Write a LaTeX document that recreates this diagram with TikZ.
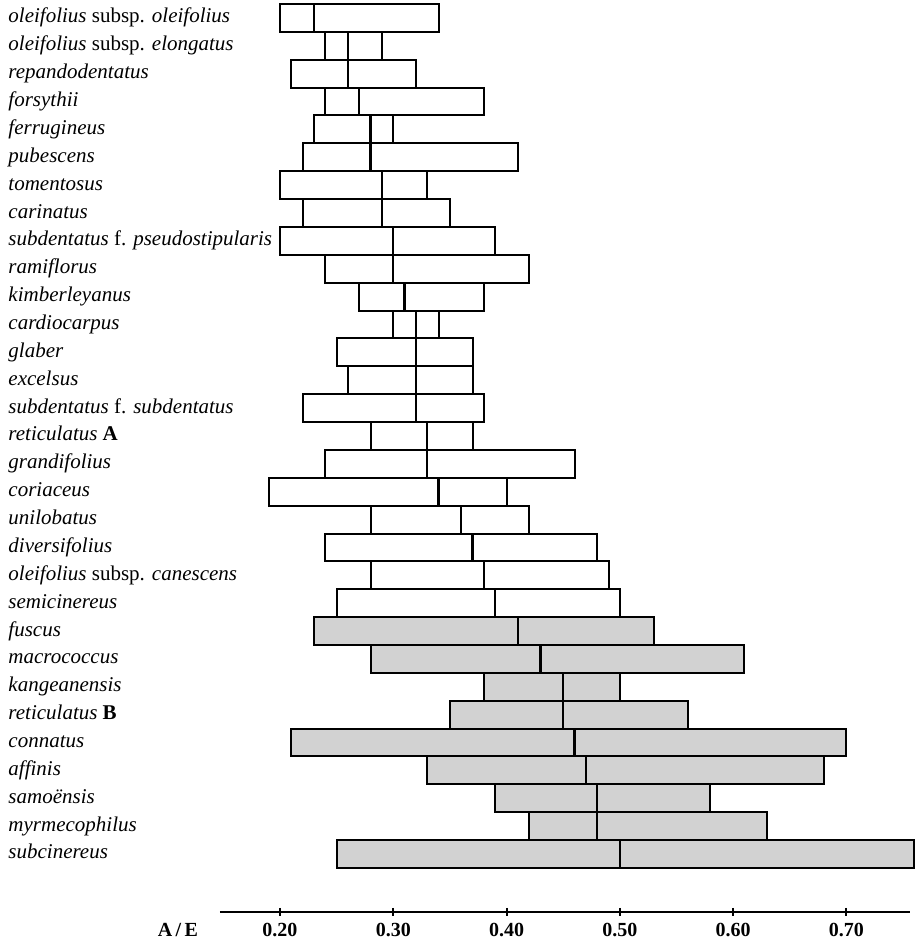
\documentclass[tikz,border=0pt]{standalone}
\usepackage{fontspec}
\setmainfont{Liberation Serif}
\usepackage{tikz}
\tikzset{
    taxon/.style={anchor=west,inner sep=0pt,text height=7pt,text depth=2pt,font=\fontsize{10.5}{12}\selectfont\itshape},
    plain/.style={draw,line width=1pt,fill=white},
    shaded/.style={draw,line width=1pt,fill=gray!35},
    median/.style={line width=1.2pt},
    tick/.style={anchor=north,inner sep=0pt,font=\fontsize{10}{12}\selectfont\bfseries},
    axis/.style={line width=1pt}
}

\begin{document}
\begin{tikzpicture}[x=566.5pt,y=-13.935pt]

    \useasboundingbox (-0.0471,-0.1435) rectangle (0.7622,33.73);

    % taxa, white boxes
    \node[taxon] (oleifolius) at (-0.04,0.5)  {oleifolius {\upshape subsp.} oleifolius};
    \draw[plain] (0.20,0) rectangle (0.34,1);   \draw[median] (0.23,0) -- (0.23,1);
    \node[taxon] (elongatus) at (-0.04,1.5)   {oleifolius {\upshape subsp.} elongatus};
    \draw[plain] (0.24,1) rectangle (0.29,2);   \draw[median] (0.26,1) -- (0.26,2);
    \node[taxon] (repandodentatus) at (-0.04,2.5) {repandodentatus};
    \draw[plain] (0.21,2) rectangle (0.32,3);   \draw[median] (0.26,2) -- (0.26,3);
    \node[taxon] (forsythii) at (-0.04,3.5)   {forsythii};
    \draw[plain] (0.24,3) rectangle (0.38,4);   \draw[median] (0.27,3) -- (0.27,4);
    \node[taxon] (ferrugineus) at (-0.04,4.5) {ferrugineus};
    \draw[plain] (0.23,4) rectangle (0.30,5);   \draw[median] (0.28,4) -- (0.28,5);
    \node[taxon] (pubescens) at (-0.04,5.5)   {pubescens};
    \draw[plain] (0.22,5) rectangle (0.41,6);   \draw[median] (0.28,5) -- (0.28,6);
    \node[taxon] (tomentosus) at (-0.04,6.5)  {tomentosus};
    \draw[plain] (0.20,6) rectangle (0.33,7);   \draw[median] (0.29,6) -- (0.29,7);
    \node[taxon] (carinatus) at (-0.04,7.5)   {carinatus};
    \draw[plain] (0.22,7) rectangle (0.35,8);   \draw[median] (0.29,7) -- (0.29,8);
    \node[taxon] (pseudostipularis) at (-0.04,8.5) {subdentatus {\upshape f.} pseudostipularis};
    \draw[plain] (0.20,8) rectangle (0.39,9);   \draw[median] (0.30,8) -- (0.30,9);
    \node[taxon] (ramiflorus) at (-0.04,9.5)  {ramiflorus};
    \draw[plain] (0.24,9) rectangle (0.42,10);  \draw[median] (0.30,9) -- (0.30,10);
    \node[taxon] (kimberleyanus) at (-0.04,10.5) {kimberleyanus};
    \draw[plain] (0.27,10) rectangle (0.38,11); \draw[median] (0.31,10) -- (0.31,11);
    \node[taxon] (cardiocarpus) at (-0.04,11.5) {cardiocarpus};
    \draw[plain] (0.30,11) rectangle (0.34,12); \draw[median] (0.32,11) -- (0.32,12);
    \node[taxon] (glaber) at (-0.04,12.5)     {glaber};
    \draw[plain] (0.25,12) rectangle (0.37,13); \draw[median] (0.32,12) -- (0.32,13);
    \node[taxon] (excelsus) at (-0.04,13.5)   {excelsus};
    \draw[plain] (0.26,13) rectangle (0.37,14); \draw[median] (0.32,13) -- (0.32,14);
    \node[taxon] (subdentatus) at (-0.04,14.5) {subdentatus {\upshape f.} subdentatus};
    \draw[plain] (0.22,14) rectangle (0.38,15); \draw[median] (0.32,14) -- (0.32,15);
    \node[taxon] (reticulatus a) at (-0.04,15.5) {reticulatus {\upshape\bfseries A}};
    \draw[plain] (0.28,15) rectangle (0.37,16); \draw[median] (0.33,15) -- (0.33,16);
    \node[taxon] (grandifolius) at (-0.04,16.5) {grandifolius};
    \draw[plain] (0.24,16) rectangle (0.46,17); \draw[median] (0.33,16) -- (0.33,17);
    \node[taxon] (coriaceus) at (-0.04,17.5)  {coriaceus};
    \draw[plain] (0.19,17) rectangle (0.40,18); \draw[median] (0.34,17) -- (0.34,18);
    \node[taxon] (unilobatus) at (-0.04,18.5) {unilobatus};
    \draw[plain] (0.28,18) rectangle (0.42,19); \draw[median] (0.36,18) -- (0.36,19);
    \node[taxon] (diversifolius) at (-0.04,19.5) {diversifolius};
    \draw[plain] (0.24,19) rectangle (0.48,20); \draw[median] (0.37,19) -- (0.37,20);
    \node[taxon] (canescens) at (-0.04,20.5)  {oleifolius {\upshape subsp.} canescens};
    \draw[plain] (0.28,20) rectangle (0.49,21); \draw[median] (0.38,20) -- (0.38,21);
    \node[taxon] (semicinereus) at (-0.04,21.5) {semicinereus};
    \draw[plain] (0.25,21) rectangle (0.50,22); \draw[median] (0.39,21) -- (0.39,22);

    % taxa, shaded boxes
    \node[taxon] (fuscus) at (-0.04,22.5)     {fuscus};
    \draw[shaded] (0.23,22) rectangle (0.53,23); \draw[median] (0.41,22) -- (0.41,23);
    \node[taxon] (macrococcus) at (-0.04,23.5) {macrococcus};
    \draw[shaded] (0.28,23) rectangle (0.61,24); \draw[median] (0.43,23) -- (0.43,24);
    \node[taxon] (kangeanensis) at (-0.04,24.5) {kangeanensis};
    \draw[shaded] (0.38,24) rectangle (0.50,25); \draw[median] (0.45,24) -- (0.45,25);
    \node[taxon] (reticulatus b) at (-0.04,25.5) {reticulatus {\upshape\bfseries B}};
    \draw[shaded] (0.35,25) rectangle (0.56,26); \draw[median] (0.45,25) -- (0.45,26);
    \node[taxon] (connatus) at (-0.04,26.5)   {connatus};
    \draw[shaded] (0.21,26) rectangle (0.70,27); \draw[median] (0.46,26) -- (0.46,27);
    \node[taxon] (affinis) at (-0.04,27.5)    {affinis};
    \draw[shaded] (0.33,27) rectangle (0.68,28); \draw[median] (0.47,27) -- (0.47,28);
    \node[taxon] (samoensis) at (-0.04,28.5)  {samoënsis};
    \draw[shaded] (0.39,28) rectangle (0.58,29); \draw[median] (0.48,28) -- (0.48,29);
    \node[taxon] (myrmecophilus) at (-0.04,29.5) {myrmecophilus};
    \draw[shaded] (0.42,29) rectangle (0.63,30); \draw[median] (0.48,29) -- (0.48,30);
    \node[taxon] (subcinereus) at (-0.04,30.5) {subcinereus};
    \draw[shaded] (0.25,30) rectangle (0.76,31); \draw[median] (0.50,30) -- (0.50,31);

    % axis
    \coordinate (axis start) at (0.147,32.58);
    \coordinate (axis end) at (0.756,32.58);
    \draw[axis] (axis start) -- (axis end);
    \draw[axis] (0.20,32.43) -- (0.20,32.73) (0.30,32.43) -- (0.30,32.73)
                (0.40,32.43) -- (0.40,32.73) (0.50,32.43) -- (0.50,32.73)
                (0.60,32.43) -- (0.60,32.73) (0.70,32.43) -- (0.70,32.73);
    \node[tick] (t20) at (0.20,32.98) {0.20};
    \node[tick] (t30) at (0.30,32.98) {0.30};
    \node[tick] (t40) at (0.40,32.98) {0.40};
    \node[tick] (t50) at (0.50,32.98) {0.50};
    \node[tick] (t60) at (0.60,32.98) {0.60};
    \node[tick] (t70) at (0.70,32.98) {0.70};
    \node[tick,anchor=north east] (ae) at (0.128,32.98) {A\,/\,E};

\end{tikzpicture}
\end{document}
